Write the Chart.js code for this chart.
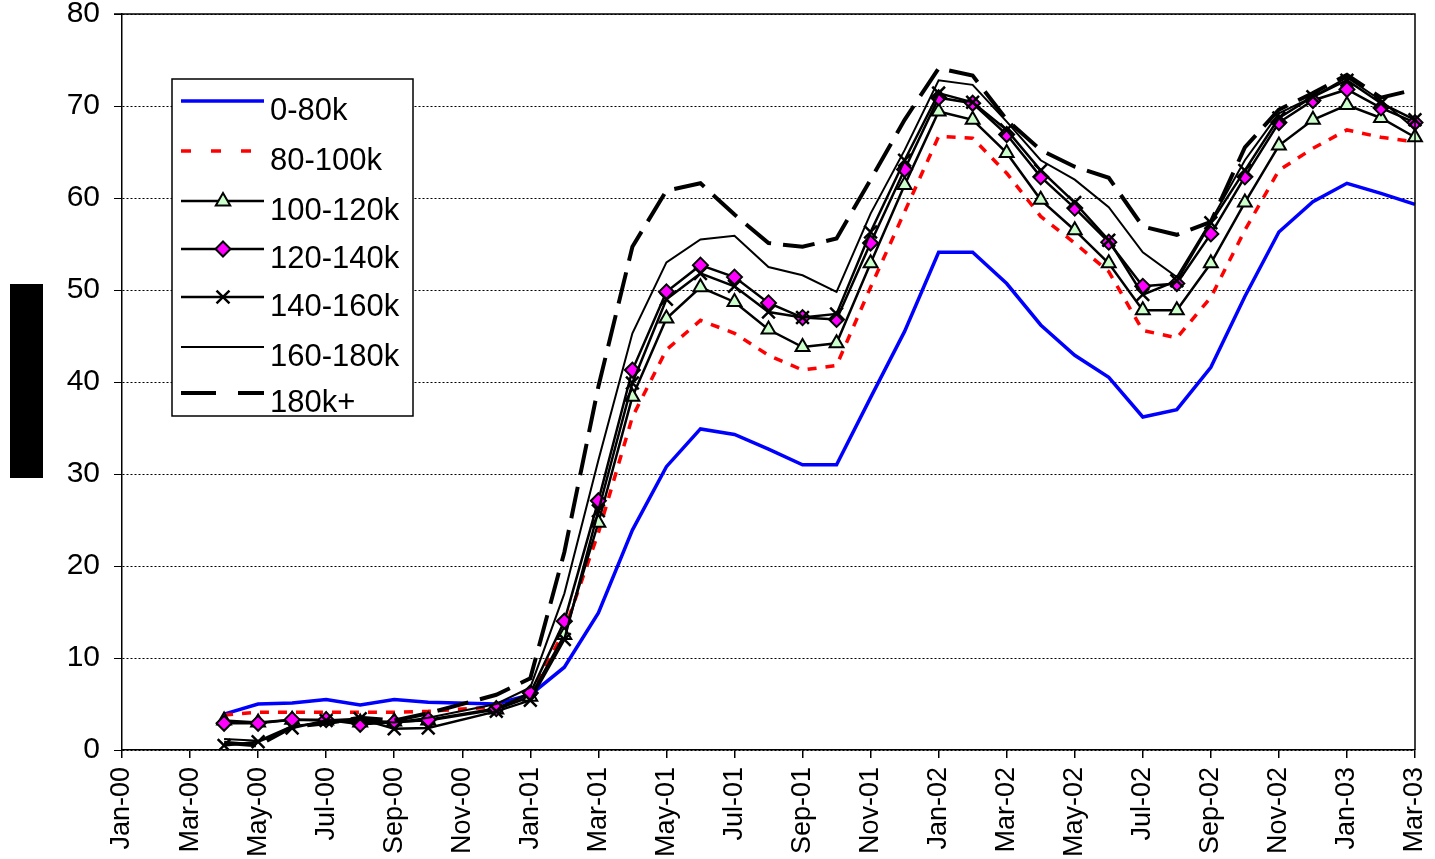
<!DOCTYPE html>
<html>
<head>
<meta charset="utf-8">
<script src="https://cdn.jsdelivr.net/npm/chart.js@4.4.0/dist/chart.umd.min.js"></script>
<style>
html, body { margin: 0; padding: 0; background: #fff; }
#wrap { position: relative; width: 1435px; height: 859px; }
#axisTitle { position: absolute; left: 10px; top: 284px; width: 33px; height: 194px; background: #000; }
</style>
</head>
<body>
<div id="wrap">
  <canvas id="chart" width="1435" height="859"></canvas>
  <div id="axisTitle"></div>
</div>
<script>
// Monthly categories, Jan-00 .. Mar-03
const months = [
  'Jan-00', 'Feb-00', 'Mar-00', 'Apr-00', 'May-00', 'Jun-00', 'Jul-00', 'Aug-00', 'Sep-00', 'Oct-00', 'Nov-00', 'Dec-00',
  'Jan-01', 'Feb-01', 'Mar-01', 'Apr-01', 'May-01', 'Jun-01', 'Jul-01', 'Aug-01', 'Sep-01', 'Oct-01', 'Nov-01', 'Dec-01',
  'Jan-02', 'Feb-02', 'Mar-02', 'Apr-02', 'May-02', 'Jun-02', 'Jul-02', 'Aug-02', 'Sep-02', 'Oct-02', 'Nov-02', 'Dec-02',
  'Jan-03', 'Feb-03', 'Mar-03'
];

const yTicks = [0, 10, 20, 30, 40, 50, 60, 70, 80];

const s0to80 = [null, null, null, 3.9, 5.0, 5.1, 5.5, 4.9, 5.5, 5.2, null, 5.0,
  6.0, 9.0, 14.9, 23.9, 30.8, 34.9, 34.3, 32.7, 31.0, 31.0, 38.3, 45.5,
  54.1, 54.1, 50.7, 46.2, 42.9, 40.5, 36.2, 37.0, 41.6, 49.3, 56.3, 59.6,
  61.6, 60.5, 59.3];

const s80to100 = [null, null, null, 3.8, 4.1, 4.1, 4.1, 4.1, 4.1, 4.2, null, 4.7,
  5.8, 13.0, 23.6, 36.2, 43.5, 46.7, 45.3, 42.9, 41.3, 41.8, 50.3, 58.5,
  66.7, 66.5, 62.7, 58.0, 55.1, 52.0, 45.6, 44.8, 49.2, 56.5, 63.0, 65.4,
  67.4, 66.6, 66.1];

const s100to120 = [null, null, null, 3.2, 3.0, 3.3, 3.2, 3.0, 3.1, 3.2, null, 4.4,
  5.8, 12.5, 24.7, 38.4, 46.9, 50.3, 48.7, 45.7, 43.8, 44.2, 52.9, 61.4,
  69.4, 68.5, 64.9, 59.8, 56.5, 52.9, 47.8, 47.8, 52.9, 59.5, 65.7, 68.5,
  70.1, 68.7, 66.6];

const s120to140 = [null, null, null, 2.9, 2.9, 3.3, 3.3, 2.8, 3.0, 3.3, null, 4.5,
  6.2, 14.0, 27.1, 41.3, 49.8, 52.7, 51.4, 48.6, 47.0, 46.8, 55.1, 63.1,
  70.9, 70.3, 66.9, 62.3, 58.9, 55.2, 50.4, 50.7, 56.1, 62.3, 68.2, 70.6,
  71.8, 69.8, 68.2];

const s140to160 = [null, null, null, 0.5, 0.9, 2.4, 3.2, 3.4, 2.3, 2.4, null, 4.2,
  5.4, 12.0, 26.0, 39.9, 49.0, 51.8, 50.4, 47.6, 47.0, 47.4, 56.3, 64.1,
  71.4, 70.4, 67.4, 63.0, 59.5, 55.4, 49.5, 51.0, 57.3, 63.0, 68.7, 71.0,
  72.8, 70.3, 68.5];

const s160to180 = [null, null, null, 1.2, 1.0, 2.6, 3.0, 3.3, 3.0, 3.5, null, 5.0,
  6.8, 17.0, 31.5, 45.3, 53.0, 55.5, 55.9, 52.5, 51.6, 49.8, 58.3, 65.2,
  72.8, 72.3, 68.3, 64.1, 62.0, 59.0, 54.1, 51.4, 57.5, 64.1, 69.2, 71.0,
  73.1, 70.6, 67.5];

const s180plus = [null, null, null, 0.8, 0.5, 2.5, 2.9, 3.5, 3.2, 4.0, null, 6.0,
  7.8, 21.5, 39.5, 54.7, 60.8, 61.6, 58.2, 55.1, 54.7, 55.6, 62.0, 68.5,
  74.1, 73.3, 68.5, 65.2, 63.4, 62.2, 56.9, 56.0, 57.4, 65.5, 69.6, 71.4,
  73.4, 70.9, 71.8];

const seriesNames = ['0-80k', '80-100k', '100-120k', '120-140k', '140-160k', '160-180k', '180k+'];

const FONT = "'Liberation Sans', Arial, sans-serif";

function line(label, data, color, width, dash, marker) {
  const ds = {
    label: label,
    data: data,
    borderColor: color,
    borderWidth: width,
    borderDash: dash || [],
    tension: 0,
    spanGaps: true,
    pointRadius: 0,
    pointHoverRadius: 0
  };
  if (marker) {
    ds.pointStyle = marker.style;
    ds.pointRadius = marker.radius;
    ds.pointBackgroundColor = marker.fill;
    ds.pointBorderColor = '#000';
    ds.pointBorderWidth = marker.width;
  }
  return ds;
}

const datasets = [
  line(seriesNames[0], s0to80, '#0000ff', 3.5),
  line(seriesNames[1], s80to100, '#ff0000', 3.5, [9, 9]),
  line(seriesNames[2], s100to120, '#000', 2.5, null, { style: 'triangle', radius: 8, fill: '#ccffcc', width: 2 }),
  line(seriesNames[3], s120to140, '#000', 2.5, null, { style: 'rectRot', radius: 7.5, fill: '#ff00ff', width: 2 }),
  line(seriesNames[4], s140to160, '#000', 2.5, null, { style: 'crossRot', radius: 9, fill: '#000', width: 2.5 }),
  line(seriesNames[5], s160to180, '#000', 2),
  line(seriesNames[6], s180plus, '#000', 4, [32, 12])
];
// later series on top, like the original
datasets.forEach((ds, i) => { ds.order = datasets.length - i; });

function drawMarker(ctx, style, x, y, r, fill, bw) {
  ctx.save();
  ctx.lineWidth = bw;
  ctx.strokeStyle = '#000';
  ctx.fillStyle = fill;
  ctx.beginPath();
  if (style === 'triangle') {
    ctx.moveTo(x, y - r);
    ctx.lineTo(x + r * 0.9, y + r * 0.55);
    ctx.lineTo(x - r * 0.9, y + r * 0.55);
    ctx.closePath();
    ctx.fill();
    ctx.stroke();
  } else if (style === 'rectRot') {
    ctx.moveTo(x, y - r);
    ctx.lineTo(x + r, y);
    ctx.lineTo(x, y + r);
    ctx.lineTo(x - r, y);
    ctx.closePath();
    ctx.fill();
    ctx.stroke();
  } else if (style === 'crossRot') {
    const d = r * 0.72;
    ctx.moveTo(x - d, y - d);
    ctx.lineTo(x + d, y + d);
    ctx.moveTo(x + d, y - d);
    ctx.lineTo(x - d, y + d);
    ctx.stroke();
  }
  ctx.restore();
}

const frameAndLegend = {
  id: 'frameAndLegend',
  afterDatasetsDraw(chart) {
    const ctx = chart.ctx;
    const a = chart.chartArea;
    ctx.save();
    // plot frame top and right
    ctx.strokeStyle = '#000';
    ctx.lineWidth = 1.5;
    ctx.beginPath();
    ctx.moveTo(a.left - 8, a.top);
    ctx.lineTo(a.right, a.top);
    ctx.lineTo(a.right, a.bottom);
    ctx.stroke();

    // legend box
    const box = { x: 172, y: 79, w: 241, h: 337 };
    ctx.fillStyle = '#fff';
    ctx.fillRect(box.x, box.y, box.w, box.h);
    ctx.lineWidth = 1.5;
    ctx.strokeRect(box.x, box.y, box.w, box.h);

    const rowY = [101, 151, 201, 249, 297, 347, 393];
    chart.data.datasets.forEach((ds, i) => {
      const y = rowY[i];
      ctx.save();
      ctx.strokeStyle = ds.borderColor;
      ctx.lineWidth = ds.borderWidth;
      if (i === 1) ctx.setLineDash([10, 20]);
      else if (i === 6) ctx.setLineDash([35, 22]);
      else ctx.setLineDash([]);
      ctx.beginPath();
      ctx.moveTo(181, y);
      ctx.lineTo(264, y);
      ctx.stroke();
      ctx.restore();
      if (ds.pointStyle) {
        drawMarker(ctx, ds.pointStyle, 223, y, ds.pointRadius, ds.pointBackgroundColor, ds.pointBorderWidth);
      }
      ctx.fillStyle = '#000';
      ctx.font = '31px ' + FONT;
      ctx.textAlign = 'left';
      ctx.textBaseline = 'middle';
      ctx.fillText(ds.label, 270, y + 10);
    });
    ctx.restore();
  }
};

new Chart(document.getElementById('chart'), {
  type: 'line',
  data: { labels: months, datasets: datasets },
  options: {
    responsive: false,
    animation: false,
    layout: { padding: 0 },
    plugins: {
      legend: { display: false },
      tooltip: { enabled: false },
      title: { display: false }
    },
    scales: {
      x: {
        type: 'category',
        offset: false,
        afterFit(scale) {
          scale.height = 109;
          scale.paddingLeft = 0;
          scale.paddingRight = 20;
        },
        grid: {
          drawOnChartArea: false,
          drawTicks: true,
          tickLength: 8,
          color: '#000',
          lineWidth: 1.5
        },
        border: { display: true, color: '#000', width: 1.5 },
        ticks: {
          autoSkip: false,
          maxRotation: 90,
          minRotation: 90,
          padding: 9,
          color: '#000',
          font: { family: FONT, size: 27 },
          callback(value, index) {
            return index % 2 === 0 ? months[index] : null;
          }
        }
      },
      y: {
        min: yTicks[0],
        max: yTicks[yTicks.length - 1],
        afterFit(scale) {
          scale.width = 122;
          scale.paddingTop = 14;
          scale.paddingBottom = 0;
        },
        afterBuildTicks(scale) { scale.ticks = yTicks.map(v => ({ value: v })); },
        grid: {
          drawOnChartArea: true,
          drawTicks: true,
          tickLength: 8,
          color: '#000',
          lineWidth: 1
        },
        border: { display: true, color: '#000', width: 1.5, dash: [2, 2] },
        ticks: {
          padding: 14,
          color: '#000',
          font: { family: FONT, size: 30 }
        }
      }
    }
  },
  plugins: [frameAndLegend]
});
</script>
</body>
</html>
